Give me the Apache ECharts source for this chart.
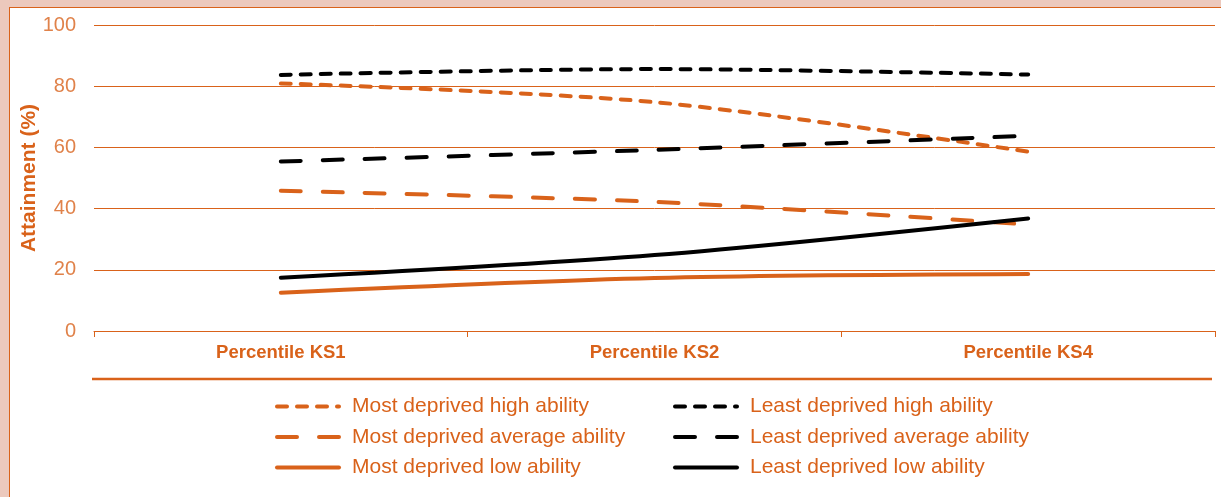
<!DOCTYPE html>
<html>
<head>
<meta charset="utf-8">
<script src="https://cdn.jsdelivr.net/npm/echarts@6/dist/echarts.min.js"></script>
<style>
html,body{margin:0;padding:0;background:#ecc9bd;width:1221px;height:497px;overflow:hidden;}
#frame{position:absolute;left:9px;top:7px;width:1230px;height:520px;background:#fff;border:1.5px solid #d9621a;}
#chart{position:absolute;left:0;top:0;width:1221px;height:497px;}
</style>
</head>
<body>
<div id="frame"></div>
<div id="chart"></div>
<script>
const categories = ['Percentile KS1', 'Percentile KS2', 'Percentile KS4'];
const yTicks = [0, 20, 40, 60, 80, 100];
const mostDeprivedHigh = [80.9, 74.8, 58.6];
const mostDeprivedAverage = [45.8, 42.2, 34.8];
const mostDeprivedLow = [12.5, 17.3, 18.6];
const leastDeprivedHigh = [83.7, 85.6, 83.8];
const leastDeprivedAverage = [55.4, 59.2, 63.8];
const leastDeprivedLow = [17.4, 24.8, 36.8];

const ORANGE = '#d9621a';
const LABEL_ORANGE = '#e0824a';
const DOT = [10, 10];
const DASH = [20, 22];
const FONT = 'Liberation Sans, Arial, sans-serif';

function mk(name, data, color, type) {
  return {
    name: name, type: 'line', data: data, symbol: 'none', showSymbol: false, smooth: 0.3,
    lineStyle: { color: color, width: 4, type: type, cap: 'round' },
    itemStyle: { color: color },
    emphasis: { disabled: true }
  };
}

const chart = echarts.init(document.getElementById('chart'), null, { renderer: 'canvas' });
const legendText = { color: ORANGE, fontSize: 21, fontFamily: FONT, lineHeight: 20, padding: [0, 0, 0, 8] };
const legendCommon = {
  orient: 'vertical', top: 391, itemWidth: 62, itemHeight: 14, itemGap: 9.5,
  textStyle: legendText, selectedMode: false,
  itemStyle: { opacity: 0, borderWidth: 0 },
  lineStyle: { width: 4, cap: 'round' }
};
chart.setOption({
  backgroundColor: 'transparent',
  animation: false,
  grid: { left: 94, right: 6, top: 25, bottom: 166, containLabel: false },
  xAxis: {
    type: 'category', data: categories, boundaryGap: true,
    axisLine: { show: true, lineStyle: { color: ORANGE, width: 1 } },
    axisTick: { show: true, length: 6, lineStyle: { color: ORANGE, width: 1 } },
    axisLabel: { color: ORANGE, fontSize: 18.5, fontWeight: 'bold', fontFamily: FONT, margin: 12 },
    splitLine: { show: false }
  },
  yAxis: {
    type: 'value', min: yTicks[0], max: yTicks[yTicks.length - 1], interval: 20,
    name: 'Attainment (%)', nameLocation: 'middle', nameGap: 54, nameMoveOverlap: false,
    nameTextStyle: { color: ORANGE, fontSize: 21, fontWeight: 'bold', fontFamily: FONT },
    axisLine: { show: false }, axisTick: { show: false },
    axisLabel: { color: LABEL_ORANGE, fontSize: 20, fontFamily: FONT, margin: 18 },
    splitLine: { show: true, lineStyle: { color: ORANGE, width: 1 } }
  },
  legend: [
    Object.assign({ left: 270, data: ['Most deprived high ability', 'Most deprived average ability', 'Most deprived low ability'] }, legendCommon),
    Object.assign({ left: 668, data: ['Least deprived high ability', 'Least deprived average ability', 'Least deprived low ability'] }, legendCommon)
  ],
  graphic: [
    { type: 'line', shape: { x1: 92, y1: 379, x2: 1212, y2: 379 }, style: { stroke: ORANGE, lineWidth: 2.5 } }
  ],
  series: [
    mk('Most deprived high ability', mostDeprivedHigh, ORANGE, DOT),
    mk('Most deprived average ability', mostDeprivedAverage, ORANGE, DASH),
    mk('Most deprived low ability', mostDeprivedLow, ORANGE, 'solid'),
    mk('Least deprived high ability', leastDeprivedHigh, '#000', DOT),
    mk('Least deprived average ability', leastDeprivedAverage, '#000', DASH),
    mk('Least deprived low ability', leastDeprivedLow, '#000', 'solid')
  ]
});
</script>
</body>
</html>
